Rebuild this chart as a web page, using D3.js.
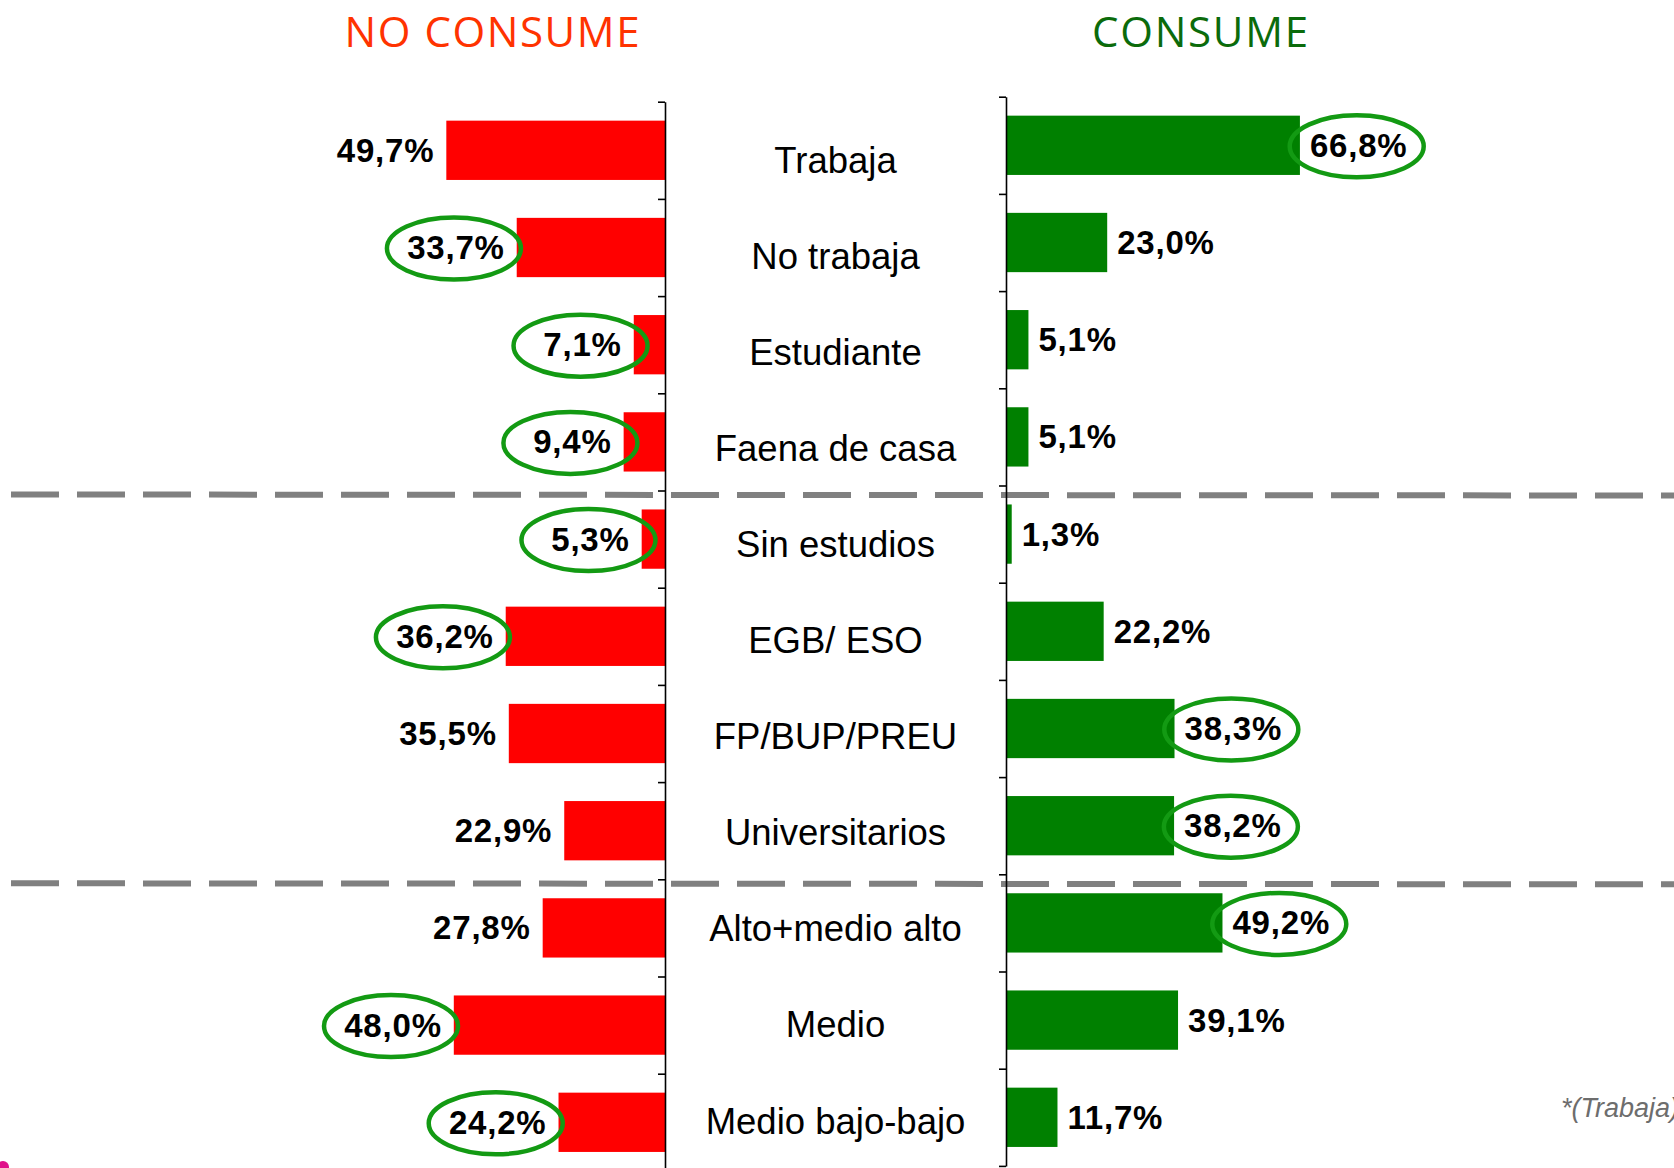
<!DOCTYPE html>
<html>
<head>
<meta charset="utf-8">
<script src="https://cdn.jsdelivr.net/npm/d3@7"></script>
<style>
  body { margin: 0; background: #fff; }
  svg { display: block; }
</style>
</head>
<body>
<script>
// data
var categories = ["Trabaja", "No trabaja", "Estudiante", "Faena de casa",
                  "Sin estudios", "EGB/ ESO", "FP/BUP/PREU", "Universitarios",
                  "Alto+medio alto", "Medio", "Medio bajo-bajo"];
var noConsume = [49.7, 33.7, 7.1, 9.4, 5.3, 36.2, 35.5, 22.9, 27.8, 48.0, 24.2];
var consume   = [66.8, 23.0, 5.1, 5.1, 1.3, 22.2, 38.3, 38.2, 49.2, 39.1, 11.7];
// labels that carry a green ring
var circledNo  = [false, true, true, true, true, true, false, false, false, true, true];
var circledYes = [true, false, false, false, false, false, true, true, true, false, false];
// first category of each group after a dashed separator
var groupStarts = ["Sin estudios", "Alto+medio alto"];
var titles = ["NO CONSUME", "CONSUME"];
var footnote = "*(Trabaja)";

var W = 1674, H = 1168;
var leftAxisX = 665, rightAxisX = 1006;
var step = 97.2, n = categories.length;

var svg = d3.select("body").append("svg")
    .attr("width", W)
    .attr("height", H);

var x = d3.scaleLinear().domain([0, 100]).range([0, 440]);

var yL = d3.scaleBand().domain(categories)
    .range([101.7, 101.7 + n * step])
    .paddingInner(0.39).paddingOuter(0.195);
var yR = d3.scaleBand().domain(categories)
    .range([96.7, 96.7 + n * step])
    .paddingInner(0.39).paddingOuter(0.195);
var yLab = d3.scalePoint().domain(categories).range([160, 1121]);

// index scales so the axis ticks land on band boundaries
var idxL = d3.scaleLinear().domain([0, n]).range(yL.range());
var idxR = d3.scaleLinear().domain([0, n]).range(yR.range());

function fmt(v) { return d3.format(".1f")(v).replace(".", ",") + "%"; }

// dashed separators
groupStarts.forEach(function (c) {
  var yy = yL(c) - yL.step() * yL.paddingOuter() + 4;
  svg.append("line")
    .attr("x1", 11).attr("x2", W)
    .attr("y1", yy).attr("y2", yy + 1)
    .attr("stroke", "#808080")
    .attr("stroke-width", 6)
    .attr("stroke-dasharray", "48 18");
});

// bars
svg.append("g").selectAll("rect")
  .data(categories)
  .enter().append("rect")
  .attr("x", function (d, i) { return leftAxisX - x(noConsume[i]); })
  .attr("y", function (d) { return yL(d); })
  .attr("width", function (d, i) { return x(noConsume[i]); })
  .attr("height", yL.bandwidth())
  .style("fill", "#ff0000");

svg.append("g").selectAll("rect")
  .data(categories)
  .enter().append("rect")
  .attr("x", rightAxisX)
  .attr("y", function (d) { return yR(d); })
  .attr("width", function (d, i) { return x(consume[i]); })
  .attr("height", yR.bandwidth())
  .style("fill", "#008000");

// axes
function drawAxis(scale, xpos) {
  var g = svg.append("g")
    .attr("transform", "translate(" + xpos + ",0)")
    .call(d3.axisLeft(scale)
      .tickValues(d3.range(n + 1))
      .tickFormat("")
      .tickSizeInner(7)
      .tickSizeOuter(0));
  g.select(".domain").attr("stroke", "#000").attr("stroke-width", 1.6);
  g.selectAll(".tick line").attr("stroke", "#000").attr("stroke-width", 1.6);
}
drawAxis(idxL, leftAxisX);
drawAxis(idxR, rightAxisX);

// category labels in the middle
svg.append("g").selectAll("text")
  .data(categories)
  .enter().append("text")
  .attr("x", (leftAxisX + rightAxisX) / 2)
  .attr("y", function (d) { return yLab(d); })
  .attr("text-anchor", "middle")
  .attr("dominant-baseline", "central")
  .style("font-family", "'Liberation Sans', Arial, sans-serif")
  .style("font-size", "36.5px")
  .style("fill", "#000")
  .text(function (d) { return d; });

// value labels
var valStyle = function (sel) {
  sel.attr("dominant-baseline", "central")
    .style("font-family", "'Liberation Sans', Arial, sans-serif")
    .style("font-weight", "bold")
    .style("font-size", "33px")
    .style("letter-spacing", "0.8px")
    .style("fill", "#000");
};

var leftLabels = svg.append("g").selectAll("text")
  .data(categories)
  .enter().append("text")
  .attr("x", function (d, i) { return leftAxisX - x(noConsume[i]) - 12; })
  .attr("y", function (d) { return yL(d) + yL.bandwidth() / 2; })
  .attr("text-anchor", "end")
  .call(valStyle)
  .text(function (d, i) { return fmt(noConsume[i]); });

var rightLabels = svg.append("g").selectAll("text")
  .data(categories)
  .enter().append("text")
  .attr("x", function (d, i) { return rightAxisX + x(consume[i]) + 10; })
  .attr("y", function (d) { return yR(d) + yR.bandwidth() / 2; })
  .attr("text-anchor", "start")
  .call(valStyle)
  .text(function (d, i) { return fmt(consume[i]); });

// green rings around highlighted values
function ring(labels, flags) {
  labels.each(function (d, i) {
    if (!flags[i]) return;
    var b = this.getBBox();
    svg.append("ellipse")
      .attr("cx", b.x + b.width / 2 - 2)
      .attr("cy", b.y + b.height / 2 + 1)
      .attr("rx", 67)
      .attr("ry", 31)
      .style("fill", "none")
      .style("stroke", "#139a13")
      .style("stroke-width", 4.5);
  });
}
ring(leftLabels, circledNo);
ring(rightLabels, circledYes);

// titles
svg.append("text")
  .attr("x", 492).attr("y", 47)
  .attr("text-anchor", "middle")
  .attr("textLength", 295)
  .style("font-family", "'Comic Sans MS', 'Open Sans', sans-serif")
  .style("font-size", "42px")
  .style("fill", "#ff3300")
  .text(titles[0]);

svg.append("text")
  .attr("x", 1200).attr("y", 47)
  .attr("text-anchor", "middle")
  .attr("textLength", 216)
  .style("font-family", "'Comic Sans MS', 'Open Sans', sans-serif")
  .style("font-size", "42px")
  .style("fill", "#0b6b0b")
  .text(titles[1]);

// footnote, cut by the right edge
svg.append("text")
  .attr("x", 1561).attr("y", 1117)
  .style("font-family", "'Liberation Sans', Arial, sans-serif")
  .style("font-style", "italic")
  .style("font-size", "27px")
  .style("fill", "#6d6d6d")
  .text(footnote);

// bit of a logo in the bottom-left corner
svg.append("circle")
  .attr("cx", 3).attr("cy", 1167).attr("r", 6)
  .style("fill", "#e0118a");
</script>
</body>
</html>
